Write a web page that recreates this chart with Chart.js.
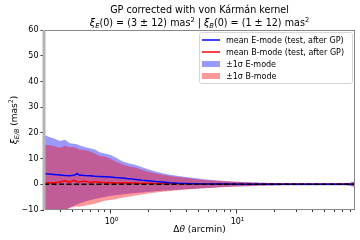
<!DOCTYPE html>
<html>
<head>
<meta charset="utf-8">
<script src="https://cdn.jsdelivr.net/npm/chart.js@4.4.1/dist/chart.umd.min.js"></script>
<style>
  html, body { margin: 0; padding: 0; background: #fff; }
  #wrap { width: 360px; height: 240px; }
</style>
</head>
<body>
<div id="wrap"><canvas id="c"></canvas></div>
<script>
// separation (arcmin)
const theta = [0.30, 0.33, 0.36, 0.40, 0.44, 0.48, 0.52, 0.55, 0.57, 0.63, 0.69, 0.76, 0.83, 0.91, 1.0, 1.1, 1.25, 1.4, 1.6, 1.8, 2.0, 2.3, 2.6, 3.0, 3.5, 4.0, 4.7, 5.5, 6.5, 8, 10, 12, 15, 19, 24, 30, 38, 48, 60, 72, 80, 88];
// mean curves
const meanE = [4.1, 4.0, 3.8, 3.6, 3.4, 3.3, 3.5, 4.2, 3.6, 3.4, 3.3, 3.1, 3.0, 2.9, 2.8, 2.6, 2.4, 2.2, 1.9, 1.6, 1.4, 1.1, 0.9, 0.6, 0.4, 0.3, 0.2, 0.15, 0.1, 0.1, 0.05, 0.05, 0.05, 0.03, 0.03, 0.02, 0.02, 0.02, 0.02, 0.02, 0.03, 0.05];
const meanB = [0.5, 0.6, 0.5, 0.9, 1.4, 0.8, 1.5, 1.0, 0.9, 1.3, 0.7, 1.0, 0.8, 0.6, 0.7, 0.5, 0.6, 0.5, 0.5, 0.4, 0.4, 0.3, 0.3, 0.25, 0.2, 0.15, 0.1, 0.1, 0.05, 0.05, 0.05, 0.05, 0.03, 0.03, 0.02, 0.02, 0.02, 0.02, 0.02, 0.02, 0.02, 0.03];
// +-1 sigma bands
const upE = [19.3, 18.4, 17.8, 16.8, 17.3, 16.0, 15.8, 15.6, 15.2, 14.5, 14.0, 13.5, 12.5, 12.0, 11.5, 10.5, 9.0, 8.2, 7.5, 6.6, 5.8, 5.0, 4.3, 3.7, 3.2, 2.8, 2.4, 2.0, 1.7, 1.3, 1.0, 0.8, 0.65, 0.5, 0.45, 0.4, 0.35, 0.35, 0.35, 0.4, 0.6, 1.3];
const loE = [-13, -12.5, -12, -11, -10.2, -9.0, -8.3, -7.9, -7.5, -6.8, -6.2, -5.7, -5.3, -4.9, -4.6, -4.3, -4.0, -3.7, -3.4, -3.2, -3.0, -2.7, -2.5, -2.3, -2.1, -1.9, -1.7, -1.5, -1.3, -1.1, -0.9, -0.75, -0.6, -0.5, -0.42, -0.38, -0.35, -0.35, -0.35, -0.4, -0.55, -1.2];
const upB = [15.5, 15.2, 14.9, 14.2, 15.0, 14.4, 14.5, 14.0, 13.5, 13.3, 12.8, 12.0, 11.0, 10.8, 10.0, 9.0, 7.8, 7.0, 6.5, 5.6, 5.0, 4.3, 3.7, 3.2, 2.8, 2.5, 2.1, 1.8, 1.5, 1.2, 0.95, 0.75, 0.6, 0.5, 0.42, 0.38, 0.35, 0.35, 0.35, 0.38, 0.5, 1.0];
const loB = [-14, -13, -12, -10.8, -10, -9.3, -8.7, -8.6, -8.7, -8.3, -8.0, -7.6, -7.0, -6.4, -6.1, -5.8, -5.2, -4.8, -4.4, -4.0, -3.6, -3.2, -2.9, -2.6, -2.3, -2.0, -1.8, -1.5, -1.3, -1.1, -0.9, -0.75, -0.6, -0.5, -0.42, -0.38, -0.35, -0.35, -0.35, -0.38, -0.5, -1.0];

const yTicks = [-10, 0, 10, 20, 30, 40, 50, 60];
const xMajor = [1, 10];
const xMinor = [0.4, 0.5, 0.6, 0.7, 0.8, 0.9, 2, 3, 4, 5, 6, 7, 8, 9, 20, 30, 40, 50, 60, 70, 80];

const FONT = '"DejaVu Sans", sans-serif';
const pts = arr => arr.map((v, i) => ({ x: theta[i], y: v }));

// draw text with italic / sub / superscript pieces
function rich(ctx, parts, x, y, size, align) {
  const fontOf = k => {
    const s = (k === 'sb' || k === 'sp') ? size * 0.7 : size;
    const it = (k === 'i' || k === 'sb') ? 'italic ' : '';
    return it + s + 'px ' + FONT;
  };
  let w = 0;
  parts.forEach(p => { ctx.font = fontOf(p[1]); w += ctx.measureText(p[0]).width; });
  let cx = align === 'center' ? x - w / 2 : x;
  ctx.textAlign = 'left';
  ctx.textBaseline = 'alphabetic';
  parts.forEach(p => {
    ctx.font = fontOf(p[1]);
    let dy = 0;
    if (p[1] === 'sb') dy = size * 0.22;
    if (p[1] === 'sp') dy = -size * 0.4;
    ctx.fillText(p[0], cx, y + dy);
    cx += ctx.measureText(p[0]).width;
  });
}

const decor = {
  id: 'decor',
  afterDraw(chart) {
    const ctx = chart.ctx;
    const a = chart.chartArea;
    const xs = chart.scales.x;
    ctx.save();
    ctx.fillStyle = '#000';

    // spines
    ctx.strokeStyle = '#888';
    ctx.lineWidth = 1;
    ctx.strokeRect(a.left + 0.5, a.top + 0.5, a.right - a.left - 1, a.bottom - a.top - 1);
    ctx.strokeStyle = '#b4b4b4';
    ctx.lineWidth = 3;
    ctx.beginPath(); ctx.moveTo(a.left, a.top); ctx.lineTo(a.left, a.bottom); ctx.stroke();

    // x ticks
    ctx.strokeStyle = '#000';
    ctx.lineWidth = 0.8;
    xMajor.forEach(v => {
      const px = Math.round(xs.getPixelForValue(v)) + 0.5;
      ctx.beginPath(); ctx.moveTo(px, a.bottom); ctx.lineTo(px, a.bottom + 3.5); ctx.stroke();
      rich(ctx, [['10', 'n'], [String(Math.round(Math.log10(v))), 'sp']], px + 1, a.bottom + 14, 8, 'center');
    });
    xMinor.forEach(v => {
      const px = Math.round(xs.getPixelForValue(v)) + 0.5;
      ctx.beginPath(); ctx.moveTo(px, a.bottom); ctx.lineTo(px, a.bottom + 2); ctx.stroke();
    });

    // title
    ctx.font = '9.6px ' + FONT;
    ctx.textAlign = 'center';
    ctx.textBaseline = 'alphabetic';
    const cx = (a.left + a.right) / 2;
    ctx.fillText('GP corrected with von Kármán kernel', cx, 13);
    rich(ctx, [['ξ', 'i'], ['E', 'sb'], ['(0) = (3 ± 12) mas', 'n'], ['2', 'sp'], [' | ', 'n'],
               ['ξ', 'i'], ['B', 'sb'], ['(0) = (1 ± 12) mas', 'n'], ['2', 'sp']], cx, 26, 9.6, 'center');

    // axis labels
    rich(ctx, [['Δ', 'n'], ['θ', 'i'], [' (arcmin)', 'n']], cx, 232, 9, 'center');
    ctx.save();
    ctx.translate(17, (a.top + a.bottom) / 2);
    ctx.rotate(-Math.PI / 2);
    rich(ctx, [['ξ', 'i'], ['E/B', 'sb'], [' (mas', 'n'], ['2', 'sp'], [')', 'n']], 0, 0, 9, 'center');
    ctx.restore();

    // legend
    const lx = 199, ly = 32, lw = 153, lh = 51;
    ctx.fillStyle = 'rgba(255,255,255,0.8)';
    ctx.strokeStyle = '#d6d6d6';
    ctx.lineWidth = 1;
    ctx.beginPath(); ctx.roundRect(lx + 0.5, ly + 0.5, lw, lh, 2); ctx.fill(); ctx.stroke();
    const items = [
      ['line', 'blue', 'mean E-mode (test, after GP)'],
      ['line', 'red', 'mean B-mode (test, after GP)'],
      ['box', 'rgba(0,0,255,0.4)', '±1σ E-mode'],
      ['box', 'rgba(255,0,0,0.4)', '±1σ B-mode']
    ];
    items.forEach((it, i) => {
      const y = 40 + i * 12;
      if (it[0] === 'line') {
        ctx.strokeStyle = it[1]; ctx.lineWidth = 1.5;
        ctx.beginPath(); ctx.moveTo(202, y); ctx.lineTo(220, y); ctx.stroke();
      } else {
        ctx.fillStyle = it[1];
        ctx.fillRect(202, y - 3, 18, 6);
      }
      ctx.fillStyle = '#000';
      ctx.font = '8px ' + FONT;
      ctx.textAlign = 'left';
      ctx.textBaseline = 'middle';
      ctx.fillText(it[2], 226, y + 0.5);
    });
    ctx.restore();
  }
};

new Chart(document.getElementById('c'), {
  type: 'line',
  data: {
    datasets: [
      { data: [{ x: 0.3, y: 0 }, { x: 88, y: 0 }], borderColor: '#000', borderWidth: 1.5, borderDash: [5, 2.5], pointRadius: 0 },
      { data: pts(meanE), borderColor: 'blue', borderWidth: 1.5, pointRadius: 0 },
      { data: pts(meanB), borderColor: 'red', borderWidth: 1.5, pointRadius: 0 },
      { data: pts(loB), borderWidth: 0, pointRadius: 0, fill: false },
      { data: pts(upB), borderWidth: 0, pointRadius: 0, fill: '-1', backgroundColor: 'rgba(255,0,0,0.4)' },
      { data: pts(loE), borderWidth: 0, pointRadius: 0, fill: false },
      { data: pts(upE), borderWidth: 0, pointRadius: 0, fill: '-1', backgroundColor: 'rgba(0,0,255,0.4)' }
    ]
  },
  options: {
    responsive: true,
    maintainAspectRatio: false,
    animation: false,
    devicePixelRatio: 1,
    layout: { padding: { top: 30, right: 5, left: 0, bottom: 0 } },
    elements: { line: { tension: 0 } },
    plugins: { legend: { display: false }, tooltip: { enabled: false } },
    scales: {
      x: {
        type: 'logarithmic', min: 0.3, max: 88,
        grid: { display: false }, border: { display: false },
        ticks: { display: false },
        afterFit: s => { s.height = 30; }
      },
      y: {
        min: -10, max: 60,
        afterBuildTicks: s => { s.ticks = yTicks.map(v => ({ value: v })); },
        ticks: {
          color: '#000', padding: 2, font: { family: 'DejaVu Sans', size: 8 },
          callback: v => String(v).replace('-', '\u2212')
        },
        grid: { drawOnChartArea: false, tickLength: 3.5, color: '#000', lineWidth: 0.8 },
        border: { display: false },
        afterFit: s => { s.width = 44; }
      }
    }
  },
  plugins: [decor]
});
</script>
</body>
</html>
